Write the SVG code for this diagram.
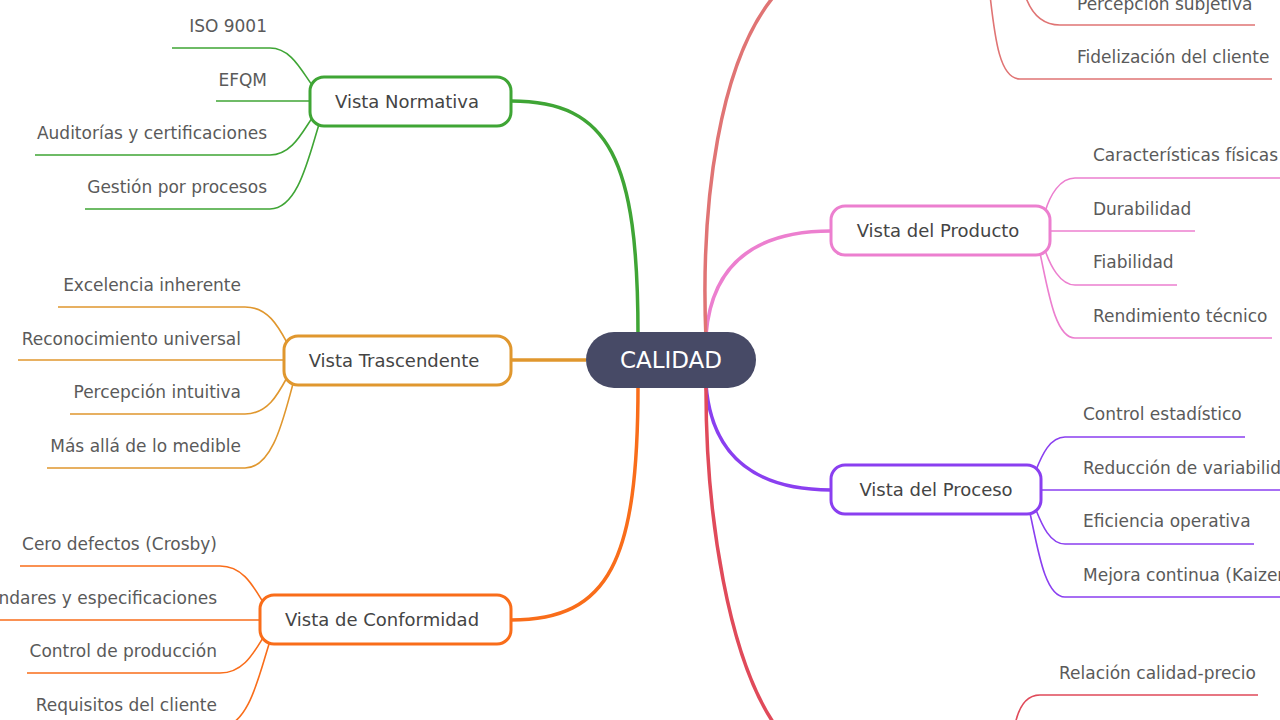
<svg xmlns="http://www.w3.org/2000/svg" width="1280" height="720" viewBox="0 0 1280 720">
<style>
text{font-family:"DejaVu Sans","Liberation Sans",sans-serif;font-size:17px;fill:#5a5a5a}
.r{text-anchor:end}
.n{fill:#fff;stroke-width:3}
.c{fill:none;stroke-width:3.5}
.l{fill:none;stroke-width:1.6}
.nt{font-size:18px;text-anchor:middle;fill:#444}
</style>
<rect width="1280" height="720" fill="#fff"/>
<g id="connectors">
<path class="c" stroke="#3fa535" d="M638,335 C638,160 610,101 511,101"/>
<path class="c" stroke="#e0972e" d="M511,360 L586,360"/>
<path class="c" stroke="#f96d1a" d="M638,385 C638,560 610,620 511,620"/>
<path class="c" stroke="#ec7fcf" d="M706,335 C712,260 760,231 831,231"/>
<path class="c" stroke="#8a3ff0" d="M706,385 C712,460 760,490 831,490"/>
<path class="c" stroke="#e07474" d="M706,340 C700,200 720,60 775,-5"/>
<path class="c" stroke="#e04a5a" d="M706,380 C705,520 730,660 775,725"/>
<g stroke="#3fa535" class="l">
<path d="M172,48 H270 C295,48 305,80 318,92"/>
<path d="M216,101 H312"/>
<path d="M35,155 H270 C295,155 305,125 318,110"/>
<path d="M85,209 H270 C300,209 310,150 322,115"/>
</g>
<g stroke="#e0972e" class="l">
<path d="M58,307 H245 C270,307 280,330 290,348"/>
<path d="M18,360 H286"/>
<path d="M70,414 H245 C270,414 280,390 290,372"/>
<path d="M47,468 H245 C275,468 285,410 295,377"/>
</g>
<g stroke="#f96d1a" class="l">
<path d="M20,566 H220 C245,566 255,590 266,607"/>
<path d="M0,620 H262"/>
<path d="M27,673 H220 C245,673 255,650 266,633"/>
<path d="M0,727 H220 C250,727 260,670 271,638"/>
</g>
<g stroke="#ec7fcf" class="l">
<path d="M1280,178 H1075 C1060,178 1050,195 1045,212"/>
<path d="M1195,231 H1050"/>
<path d="M1177,285 H1075 C1060,285 1050,265 1045,250"/>
<path d="M1272,338 H1075 C1055,338 1048,290 1040,253"/>
</g>
<g stroke="#8a3ff0" class="l">
<path d="M1245,437 H1065 C1050,437 1042,455 1036,470"/>
<path d="M1280,490 H1041"/>
<path d="M1254,544 H1065 C1050,544 1042,525 1036,510"/>
<path d="M1280,597 H1065 C1045,597 1038,550 1030,513"/>
</g>
<g stroke="#e07474" class="l">
<path d="M1255,25 H1060 C1040,25 1030,10 1025,-5"/>
<path d="M1272,79 H1020 C1000,79 995,40 990,-5"/>
</g>
<g stroke="#e04a5a" class="l">
<path d="M1258,695 H1040 C1025,695 1018,710 1015,725"/>
</g>
</g>
<g id="calidad"><rect x="586" y="332" width="170" height="56" rx="28" fill="#474a66"/><text x="671" y="368" style="font-size:23px;fill:#fff;text-anchor:middle">CALIDAD</text></g>
<g id="normativa"><rect class="n" stroke="#3fa535" x="310" y="77" width="201" height="49" rx="14"/><text class="nt" x="407" y="108">Vista Normativa</text>
<text class="r" x="267" y="32">ISO 9001</text><text class="r" x="267" y="86">EFQM</text><text class="r" x="267" y="139">Auditorías y certificaciones</text><text class="r" x="267" y="193">Gestión por procesos</text></g>
<g id="trascendente"><rect class="n" stroke="#e0972e" x="284" y="336" width="227" height="49" rx="14"/><text class="nt" x="394" y="367">Vista Trascendente</text>
<text class="r" x="241" y="291">Excelencia inherente</text><text class="r" x="241" y="345">Reconocimiento universal</text><text class="r" x="241" y="398">Percepción intuitiva</text><text class="r" x="241" y="452">Más allá de lo medible</text></g>
<g id="conformidad"><rect class="n" stroke="#f96d1a" x="260" y="595" width="251" height="49" rx="14"/><text class="nt" x="382" y="626">Vista de Conformidad</text>
<text class="r" x="217" y="550">Cero defectos (Crosby)</text><text class="r" x="217" y="604">Estándares y especificaciones</text><text class="r" x="217" y="657">Control de producción</text><text class="r" x="217" y="711">Requisitos del cliente</text></g>
<g id="producto"><rect class="n" stroke="#ec7fcf" x="831" y="206" width="219" height="49" rx="14"/><text class="nt" x="938" y="237">Vista del Producto</text>
<text x="1093" y="161">Características físicas</text><text x="1093" y="215">Durabilidad</text><text x="1093" y="268">Fiabilidad</text><text x="1093" y="322">Rendimiento técnico</text></g>
<g id="proceso"><rect class="n" stroke="#8a3ff0" x="831" y="465" width="210" height="49" rx="14"/><text class="nt" x="936" y="496">Vista del Proceso</text>
<text x="1083" y="420">Control estadístico</text><text x="1083" y="474">Reducción de variabilidad</text><text x="1083" y="527">Eficiencia operativa</text><text x="1083" y="581">Mejora continua (Kaizen)</text></g>
<g id="usuario"><text x="1077" y="10">Percepción subjetiva</text><text x="1077" y="63">Fidelización del cliente</text></g>
<g id="valor"><text x="1059" y="679">Relación calidad-precio</text></g>
</svg>
